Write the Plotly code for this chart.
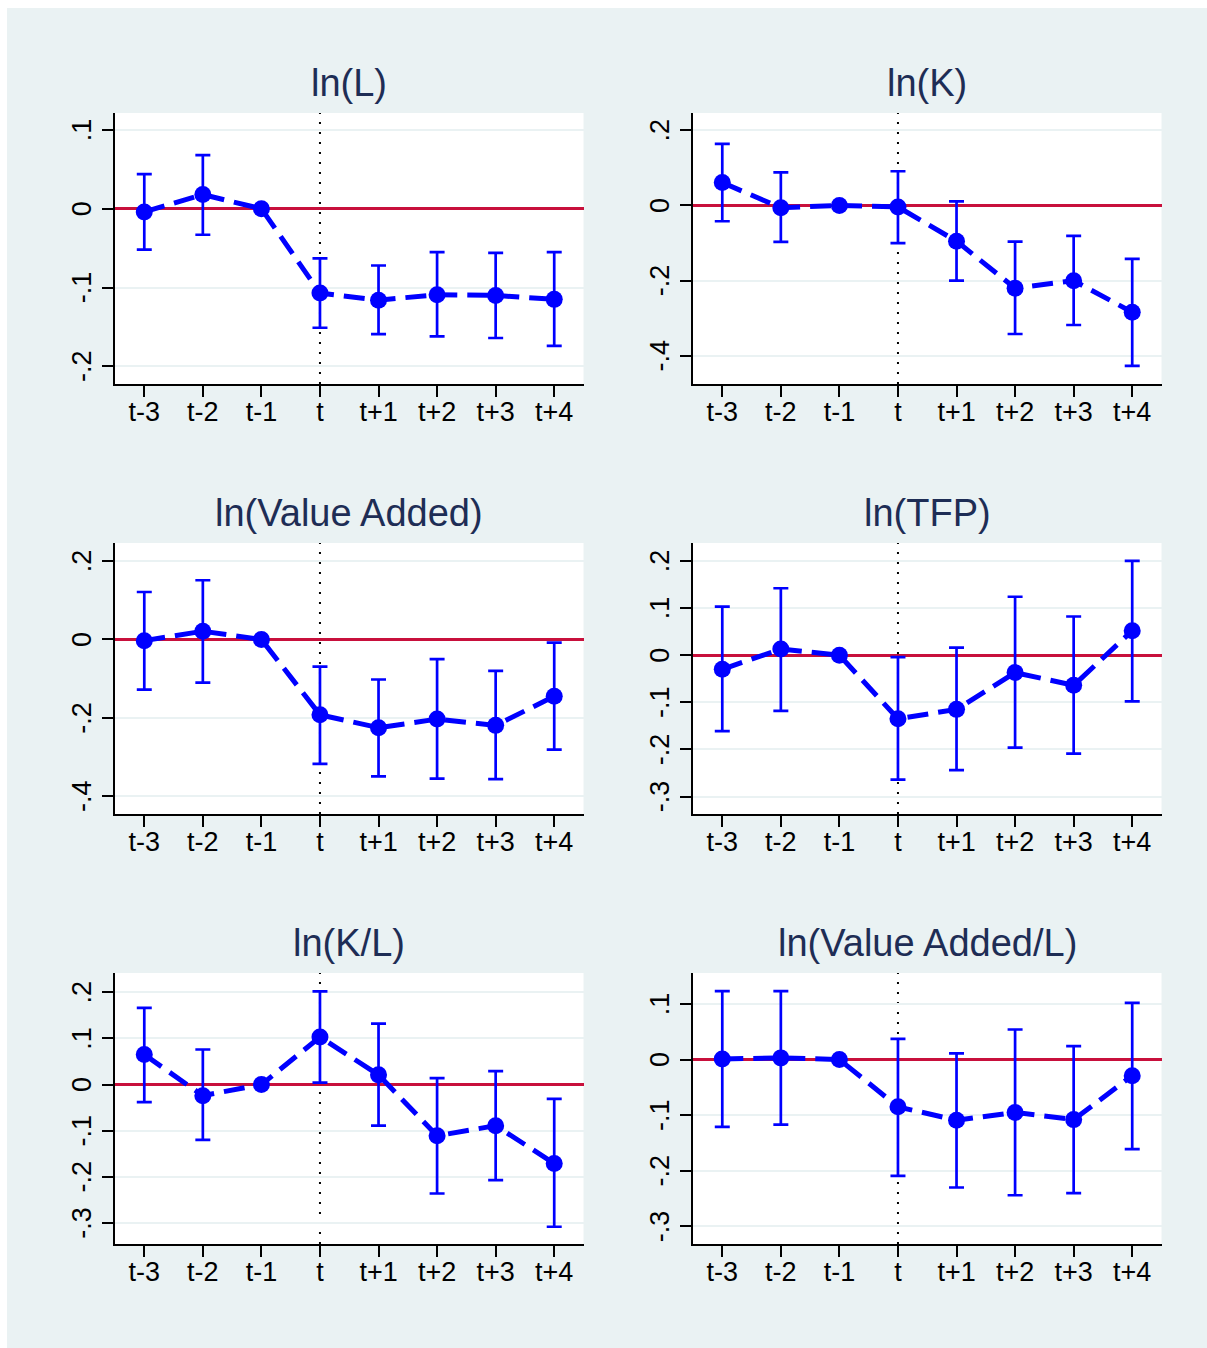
import plotly.graph_objects as go

# ---------------- data ----------------
periods = ["t-3", "t-2", "t-1", "t", "t+1", "t+2", "t+3", "t+4"]
event_period = "t"

titles = ["ln(L)", "ln(K)", "ln(Value Added)", "ln(TFP)", "ln(K/L)", "ln(Value Added/L)"]

# point estimates
lnL_est  = [-0.004, 0.018, 0.0, -0.107, -0.116, -0.109, -0.110, -0.115]
lnK_est  = [0.061, -0.006, 0.0, -0.004, -0.095, -0.220, -0.200, -0.284]
lnVA_est = [-0.003, 0.021, 0.0, -0.192, -0.225, -0.203, -0.219, -0.145]
lnTFP_est = [-0.030, 0.013, 0.0, -0.135, -0.115, -0.037, -0.064, 0.052]
lnKL_est = [0.065, -0.024, 0.0, 0.103, 0.021, -0.111, -0.089, -0.171]
lnVAL_est = [0.001, 0.003, 0.0, -0.085, -0.109, -0.095, -0.108, -0.029]

# upper confidence bounds
lnL_hi  = [0.044, 0.068, 0.0, -0.063, -0.072, -0.055, -0.056, -0.055]
lnK_hi  = [0.164, 0.088, 0.0, 0.091, 0.011, -0.096, -0.081, -0.142]
lnVA_hi = [0.121, 0.151, 0.0, -0.069, -0.102, -0.050, -0.080, -0.008]
lnTFP_hi = [0.103, 0.142, 0.0, -0.004, 0.016, 0.124, 0.082, 0.200]
lnKL_hi = [0.166, 0.076, 0.0, 0.202, 0.132, 0.014, 0.029, -0.031]
lnVAL_hi = [0.123, 0.123, 0.0, 0.037, 0.011, 0.054, 0.024, 0.102]

# lower confidence bounds
lnL_lo  = [-0.052, -0.033, 0.0, -0.151, -0.159, -0.162, -0.164, -0.174]
lnK_lo  = [-0.042, -0.097, 0.0, -0.100, -0.200, -0.342, -0.318, -0.427]
lnVA_lo = [-0.128, -0.110, 0.0, -0.317, -0.349, -0.355, -0.356, -0.281]
lnTFP_lo = [-0.161, -0.118, 0.0, -0.264, -0.244, -0.196, -0.209, -0.098]
lnKL_lo = [-0.038, -0.120, 0.0, 0.004, -0.089, -0.236, -0.207, -0.308]
lnVAL_lo = [-0.121, -0.117, 0.0, -0.209, -0.230, -0.244, -0.240, -0.161]

# y tick values and labels per panel
ytick_vals_L = [-0.2, -0.1, 0.0, 0.1]
ytick_text_L = ["-.2", "-.1", "0", ".1"]
ytick_vals_K = [-0.4, -0.2, 0.0, 0.2]
ytick_text_K = ["-.4", "-.2", "0", ".2"]
ytick_vals_VA = [-0.4, -0.2, 0.0, 0.2]
ytick_text_VA = ["-.4", "-.2", "0", ".2"]
ytick_vals_TFP = [-0.3, -0.2, -0.1, 0.0, 0.1, 0.2]
ytick_text_TFP = ["-.3", "-.2", "-.1", "0", ".1", ".2"]
ytick_vals_KL = [-0.3, -0.2, -0.1, 0.0, 0.1, 0.2]
ytick_text_KL = ["-.3", "-.2", "-.1", "0", ".1", ".2"]
ytick_vals_VAL = [-0.3, -0.2, -0.1, 0.0, 0.1]
ytick_text_VAL = ["-.3", "-.2", "-.1", "0", ".1"]

# ---------------- styling / layout ----------------
W, H = 1207, 1348
BG = "#EAF2F3"
BLUE = "#0000FF"
RED = "#C8103C"
TITLE_COLOR = "#1E2D55"
FONT = "Liberation Sans, Arial, sans-serif"

panels = [
    (lnL_est, lnL_lo, lnL_hi, ytick_vals_L, ytick_text_L, [-0.2224, 0.1215]),
    (lnK_est, lnK_lo, lnK_hi, ytick_vals_K, ytick_text_K, [-0.475, 0.246]),
    (lnVA_est, lnVA_lo, lnVA_hi, ytick_vals_VA, ytick_text_VA, [-0.445, 0.246]),
    (lnTFP_est, lnTFP_lo, lnTFP_hi, ytick_vals_TFP, ytick_text_TFP, [-0.337, 0.238]),
    (lnKL_est, lnKL_lo, lnKL_hi, ytick_vals_KL, ytick_text_KL, [-0.3454, 0.2417]),
    (lnVAL_est, lnVAL_lo, lnVAL_hi, ytick_vals_VAL, ytick_text_VAL, [-0.3316, 0.1556]),
]

col_px = [(115, 583.5), (693, 1161.5)]
row_px = [(113, 384), (543, 814), (973, 1244)]
title_y_px = [83, 513, 943]

fig = go.Figure()
layout = dict(
    width=W, height=H,
    margin=dict(l=0, r=0, t=0, b=0),
    paper_bgcolor=BG,
    plot_bgcolor="white",
    showlegend=False,
    font=dict(family=FONT, color="black"),
)
annotations = []
shapes = [
    dict(type="rect", xref="paper", yref="paper", x0=0, x1=7 / W, y0=0, y1=1,
         fillcolor="white", line=dict(width=0), layer="below"),
    dict(type="rect", xref="paper", yref="paper", x0=0, x1=1, y0=1 - 8 / H, y1=1,
         fillcolor="white", line=dict(width=0), layer="below"),
]

event_idx = periods.index(event_period)

for i, (est, lo, hi, tv, tt, yr) in enumerate(panels):
    r, c = divmod(i, 2)
    n = i + 1
    xa = "x" if n == 1 else f"x{n}"
    ya = "y" if n == 1 else f"y{n}"
    xkey = "xaxis" if n == 1 else f"xaxis{n}"
    ykey = "yaxis" if n == 1 else f"yaxis{n}"
    x0p, x1p = col_px[c]
    y0p, y1p = row_px[r]
    xdom = [x0p / W, x1p / W]
    ydom = [1 - y1p / H, 1 - y0p / H]

    err_plus = [h - e for h, e in zip(hi, est)]
    err_minus = [e - l for e, l in zip(est, lo)]

    fig.add_trace(go.Scatter(
        x=periods, y=est, xaxis=xa, yaxis=ya,
        mode="lines+markers",
        line=dict(color=BLUE, width=5, dash="21px,10px"),
        marker=dict(color=BLUE, size=17, symbol="circle"),
        error_y=dict(type="data", array=err_plus, arrayminus=err_minus,
                     color=BLUE, thickness=2.7, width=7.5, visible=True),
        hoverinfo="skip",
    ))

    layout[xkey] = dict(
        domain=xdom, anchor=ya, type="category",
        categoryorder="array", categoryarray=periods,
        range=[-0.5, len(periods) - 0.5],
        showline=True, linecolor="black", linewidth=1.8,
        ticks="outside", ticklen=11, tickwidth=1.8, tickcolor="black",
        ticklabelstandoff=-8,
        showgrid=False, zeroline=False,
        tickfont=dict(family=FONT, size=27, color="black"),
        fixedrange=True,
    )
    layout[ykey] = dict(
        domain=ydom, anchor=xa, range=yr,
        tickmode="array", tickvals=tv, ticktext=tt, tickangle=-90,
        ticklabelshift=4,
        showline=True, linecolor="black", linewidth=1.8,
        ticks="outside", ticklen=11, tickwidth=1.8, tickcolor="black",
        showgrid=True, gridcolor=BG, gridwidth=2,
        zeroline=True, zerolinecolor=RED, zerolinewidth=3,
        tickfont=dict(family=FONT, size=27, color="black"),
        fixedrange=True,
    )

    shapes.append(dict(
        type="line", xref=xa, yref=f"{ya} domain",
        x0=event_idx, x1=event_idx, y0=0, y1=1,
        line=dict(color="black", width=2, dash="2px,8px"), layer="below",
    ))

    annotations.append(dict(
        text=titles[i], xref="paper", yref="paper",
        x=(xdom[0] + xdom[1]) / 2, y=1 - title_y_px[r] / H,
        xanchor="center", yanchor="middle", showarrow=False,
        font=dict(family=FONT, size=38, color=TITLE_COLOR),
    ))

layout["annotations"] = annotations
layout["shapes"] = shapes
fig.update_layout(**layout)
fig.write_html("out.html")
